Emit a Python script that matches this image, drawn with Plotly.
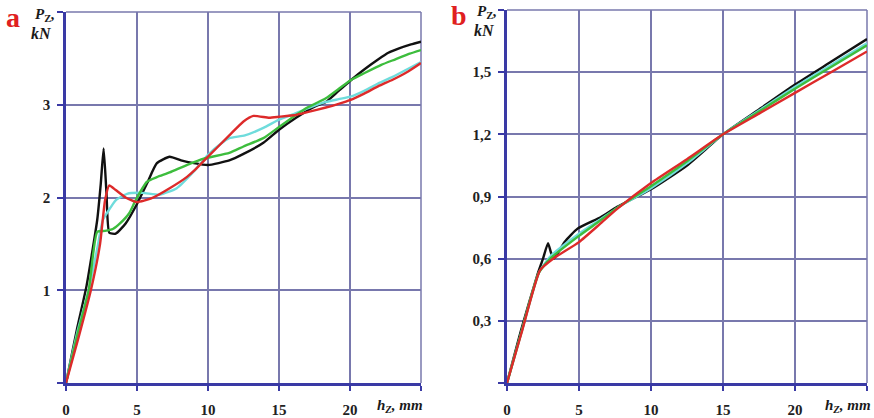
import plotly.graph_objects as go

# ---------------- data: panel a ----------------
a_black_x = [0, 0.8, 1.45, 2.2, 2.45, 2.65, 2.85, 3.05, 3.5, 4.2, 5.0, 5.7, 6.4, 7.3, 8.1, 9.0, 10.0, 11.5, 12.5, 13.9, 15.0, 16.2, 17.5, 18.3, 19.2, 20.1, 21.0, 22.0, 22.7, 23.5, 24.3, 25]
a_black_y = [0, 0.6, 1.05, 1.76, 2.15, 2.53, 2.05, 1.62, 1.61, 1.72, 1.93, 2.15, 2.37, 2.44, 2.40, 2.37, 2.35, 2.40, 2.47, 2.59, 2.73, 2.86, 2.98, 3.03, 3.15, 3.27, 3.38, 3.49, 3.56, 3.61, 3.65, 3.68]

a_green_x = [0, 0.8, 1.6, 2.2, 2.75, 3.3, 3.8, 4.45, 4.9, 5.7, 6.4, 7.3, 8.5, 9.7, 11.5, 12.5, 13.9, 15.0, 16.2, 17.0, 18.3, 19.2, 20.1, 21.0, 22.2, 23.2, 24.2, 25]
a_green_y = [0, 0.52, 1.0, 1.63, 1.64, 1.66, 1.72, 1.83, 1.97, 2.17, 2.22, 2.27, 2.35, 2.42, 2.48, 2.55, 2.64, 2.76, 2.89, 2.97, 3.07, 3.17, 3.27, 3.34, 3.43, 3.49, 3.55, 3.59]

a_cyan_x = [0, 0.8, 1.6, 2.2, 2.6, 3.0, 3.5, 4.3, 5.4, 6.6, 7.8, 9.0, 10.0, 10.9, 11.5, 12.6, 13.9, 15.0, 16.2, 17.0, 18.3, 19.2, 20.1, 21.0, 22.0, 23.0, 24.0, 25]
a_cyan_y = [0, 0.55, 1.0, 1.45, 1.76, 1.86, 1.97, 2.04, 2.05, 2.03, 2.1, 2.28, 2.46, 2.58, 2.64, 2.67, 2.75, 2.84, 2.91, 2.96, 3.03, 3.06, 3.09, 3.15, 3.23, 3.3, 3.38, 3.46]

a_red_x = [0, 0.9, 1.75, 2.4, 2.75, 3.05, 3.5, 4.2, 5.0, 6.0, 7.3, 8.5, 9.1, 10.0, 11.5, 12.5, 13.2, 14.3, 15.0, 16.2, 17.0, 18.3, 19.2, 20.0, 21.0, 22.0, 23.0, 24.0, 25]
a_red_y = [0, 0.5, 1.0, 1.5, 1.97, 2.13, 2.08, 2.0, 1.95, 1.99, 2.1, 2.22, 2.3, 2.44, 2.67, 2.82, 2.88, 2.86, 2.87, 2.89, 2.92, 2.97, 3.01, 3.05, 3.12, 3.2, 3.27, 3.35, 3.45]

# ---------------- data: panel b ----------------
b_black_x = [0, 1.0, 2.1, 2.5, 2.85, 3.05, 3.25, 4.0, 4.9, 6.5, 7.65, 10.0, 12.5, 15.0, 17.5, 20.0, 22.5, 25]
b_black_y = [0, 0.26, 0.52, 0.6, 0.675, 0.63, 0.6, 0.68, 0.745, 0.8, 0.85, 0.935, 1.05, 1.2, 1.32, 1.44, 1.55, 1.66]

b_green_x = [0, 1.0, 2.2, 3.0, 5.0, 6.5, 7.65, 10.0, 12.5, 15.0, 17.5, 20.0, 22.5, 25]
b_green_y = [0, 0.245, 0.53, 0.6, 0.71, 0.785, 0.845, 0.95, 1.07, 1.2, 1.31, 1.42, 1.525, 1.63]

b_cyan_x = [0, 1.0, 2.2, 3.0, 5.0, 6.5, 7.65, 10.0, 12.5, 15.0, 17.5, 20.0, 22.5, 25]
b_cyan_y = [0, 0.245, 0.53, 0.61, 0.72, 0.79, 0.845, 0.94, 1.06, 1.2, 1.315, 1.43, 1.535, 1.64]

b_red_x = [0, 1.0, 2.3, 3.2, 5.0, 6.5, 7.65, 10.0, 12.5, 15.0, 17.5, 20.0, 22.5, 25]
b_red_y = [0, 0.24, 0.545, 0.6, 0.68, 0.77, 0.84, 0.965, 1.08, 1.2, 1.3, 1.4, 1.5, 1.6]

# ---------------- ticks ----------------
x_tickvals = [0, 5, 10, 15, 20, 25]
x_ticktext = ["0", "5", "10", "15", "20", ""]
a_y_tickvals = [0, 1, 2, 3, 4]
a_y_ticktext = ["", "1", "2", "3", ""]
b_y_tickvals = [0, 0.3, 0.6, 0.9, 1.2, 1.5, 1.8]
b_y_ticktext = ["", "0,3", "0,6", "0,9", "1,2", "1,5", ""]

COL = {"black": "#111111", "cyan": "#6fdcdc", "green": "#3dbd3d", "red": "#dd2a2a"}
LW = 2.4

fig = go.Figure()
series_a = [("black", a_black_x, a_black_y), ("cyan", a_cyan_x, a_cyan_y),
            ("green", a_green_x, a_green_y), ("red", a_red_x, a_red_y)]
series_b = [("black", b_black_x, b_black_y), ("cyan", b_cyan_x, b_cyan_y),
            ("green", b_green_x, b_green_y), ("red", b_red_x, b_red_y)]
for name, xs, ys in series_a:
    fig.add_trace(go.Scatter(x=xs, y=ys, mode="lines", xaxis="x", yaxis="y",
                             line=dict(color=COL[name], width=LW, shape="spline", smoothing=0.5),
                             showlegend=False, hoverinfo="skip"))
for name, xs, ys in series_b:
    fig.add_trace(go.Scatter(x=xs, y=ys, mode="lines", xaxis="x2", yaxis="y2",
                             line=dict(color=COL[name], width=LW, shape="spline", smoothing=0.5),
                             showlegend=False, hoverinfo="skip"))

GRID = "#7878ad"
AXL = "#3a3aa5"
tickfont = dict(family="Liberation Serif", size=15, color="#222222", weight="bold")

def xax(domain, anchor):
    return dict(domain=domain, anchor=anchor, range=[0, 25], tickmode="array",
                tickvals=x_tickvals, ticktext=x_ticktext, showgrid=True, gridcolor=GRID,
                gridwidth=1.5, showline=True, linecolor=AXL, linewidth=2.5, zeroline=False,
                ticks="outside", ticklen=5, tickcolor=AXL, tickwidth=2, tickfont=tickfont,
                ticklabelstandoff=6, fixedrange=True, automargin=False)

def yax(domain, anchor, rng, tv, tt):
    return dict(domain=domain, anchor=anchor, range=rng, tickmode="array",
                tickvals=tv, ticktext=tt, showgrid=True, gridcolor=GRID, gridwidth=1.5,
                showline=True, linecolor=AXL, linewidth=2.5, zeroline=False,
                ticks="outside", ticklen=6, tickcolor=AXL, tickwidth=2, tickfont=tickfont,
                ticklabelstandoff=4, fixedrange=True, automargin=False)

W, H = 874, 418
fig.update_layout(
    width=W, height=H, margin=dict(l=0, r=0, t=0, b=0, autoexpand=False),
    paper_bgcolor="white", plot_bgcolor="white",
    xaxis=xax([66 / W, 421 / W], "y"),
    yaxis=yax([1 - 383 / H, 1 - 12 / H], "x", [0, 4], a_y_tickvals, a_y_ticktext),
    xaxis2=xax([507 / W, 867 / W], "y2"),
    yaxis2=yax([1 - 383 / H, 1 - 10 / H], "x2", [0, 1.8], b_y_tickvals, b_y_ticktext),
)

# frame borders (top / right)
for xr, yr in [("x", "y"), ("x2", "y2")]:
    fig.add_shape(type="line", xref=xr + " domain", yref=yr + " domain", x0=0, x1=1, y0=1, y1=1,
                  line=dict(color=GRID, width=1.5), layer="below")
    fig.add_shape(type="line", xref=xr + " domain", yref=yr + " domain", x0=1, x1=1, y0=0, y1=1,
                  line=dict(color=GRID, width=1.5), layer="below")

serif = "Liberation Serif"
def ann(text, px, py, size, color="#1a1a1a", weight="bold", style="normal"):
    fig.add_annotation(text=text, x=px / W, y=1 - py / H, xref="paper", yref="paper",
                       xanchor="center", yanchor="middle", showarrow=False,
                       font=dict(family=serif, size=size, color=color, weight=weight, style=style))

ann("a", 13, 17, 28, color="#e02020")
ann("<i>P</i><sub>Z</sub><i>,</i>", 45, 15, 15)
ann("kN", 41, 33, 16, style="italic")
ann("b", 459, 16, 28, color="#e02020")
ann("<i>P</i><sub>Z</sub><i>,</i>", 487, 12, 15)
ann("kN", 484, 30, 16, style="italic")
ann("<i>h</i><sub><i>Z</i></sub><i>, mm</i>", 400, 406, 15)
ann("<i>h</i><sub><i>Z</i></sub><i>, mm</i>", 848, 406, 15)

fig.write_html("out.html", config={"displayModeBar": False},
               post_script="document.body.style.margin='0';document.body.style.padding='0';"
                           "document.body.style.overflow='hidden';")
